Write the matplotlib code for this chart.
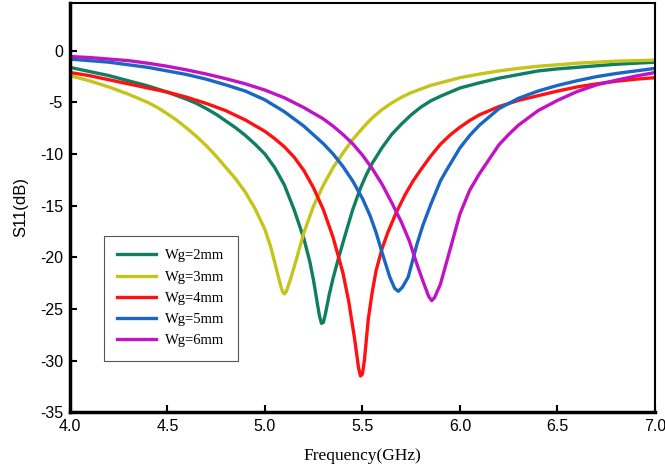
import numpy as np
import matplotlib.pyplot as plt

plt.rcParams['font.family'] = 'Liberation Sans'
plt.rcParams['axes.unicode_minus'] = False

# S11 of the antenna for different ground widths Wg
f_2mm = [4.0, 4.05, 4.1, 4.15, 4.2, 4.25, 4.3, 4.35, 4.4, 4.45, 4.5, 4.55, 4.6, 4.65,
         4.7, 4.75, 4.8, 4.85, 4.9, 4.95, 5.0, 5.05, 5.1, 5.15, 5.2, 5.23, 5.25,
         5.27, 5.28, 5.29, 5.30, 5.31, 5.33, 5.35, 5.38, 5.42, 5.45, 5.49, 5.52,
         5.55, 5.6, 5.65, 5.7, 5.75, 5.8, 5.85, 5.9, 5.95, 6.0, 6.1, 6.2, 6.3,
         6.4, 6.5, 6.6, 6.7, 6.8, 6.9, 7.0]
s11_2mm = [-1.6, -1.8, -2.0, -2.2, -2.4, -2.65, -2.9, -3.15, -3.4, -3.7, -4.0, -4.35,
           -4.7, -5.1, -5.6, -6.15, -6.8, -7.45, -8.2, -9.05, -10.0, -11.3, -13.0,
           -15.4, -18.2, -20.4, -22.3, -24.6, -25.7, -26.4, -26.3, -25.5, -23.6,
           -22.0, -19.9, -17.3, -15.4, -13.3, -12.0, -10.9, -9.4, -8.1, -7.1, -6.2,
           -5.45, -4.85, -4.4, -4.0, -3.6, -3.1, -2.65, -2.3, -1.95, -1.75, -1.6,
           -1.45, -1.3, -1.2, -1.1]

f_3mm = [4.0, 4.05, 4.1, 4.15, 4.2, 4.25, 4.3, 4.35, 4.4, 4.45, 4.5, 4.55, 4.6, 4.65,
         4.7, 4.75, 4.8, 4.85, 4.9, 4.95, 5.0, 5.03, 5.06, 5.08, 5.09, 5.10, 5.11,
         5.13, 5.16, 5.2, 5.25, 5.3, 5.35, 5.4, 5.45, 5.5, 5.55, 5.6, 5.65, 5.7,
         5.75, 5.8, 5.85, 5.9, 5.95, 6.0, 6.1, 6.2, 6.3, 6.4, 6.5, 6.6, 6.7, 6.8,
         6.9, 7.0]
s11_3mm = [-2.4, -2.65, -2.9, -3.2, -3.5, -3.85, -4.2, -4.6, -5.0, -5.5, -6.1, -6.75,
           -7.5, -8.3, -9.2, -10.2, -11.3, -12.4, -13.7, -15.3, -17.3, -19.0, -21.2,
           -22.7, -23.3, -23.55, -23.3, -22.2, -20.3, -17.6, -15.0, -13.0, -11.3,
           -9.9, -8.6, -7.5, -6.5, -5.7, -5.05, -4.5, -4.05, -3.7, -3.35, -3.1,
           -2.85, -2.6, -2.25, -1.95, -1.7, -1.5, -1.35, -1.2, -1.1, -1.0, -0.95,
           -0.9]

f_4mm = [4.0, 4.1, 4.2, 4.3, 4.4, 4.5, 4.6, 4.7, 4.8, 4.9, 5.0, 5.05, 5.1, 5.15,
         5.2, 5.25, 5.3, 5.35, 5.4, 5.43, 5.46, 5.48, 5.49, 5.50, 5.51, 5.53,
         5.55, 5.57, 5.6, 5.63, 5.675, 5.72, 5.76, 5.8, 5.85, 5.9, 5.95, 6.0,
         6.05, 6.1, 6.2, 6.3, 6.4, 6.5, 6.6, 6.7, 6.8, 6.9, 7.0]
s11_4mm = [-2.1, -2.4, -2.8, -3.2, -3.6, -4.0, -4.5, -5.1, -5.8, -6.7, -7.8, -8.5,
           -9.3, -10.3, -11.6, -13.3, -15.4, -18.1, -21.5, -24.3, -27.9, -30.7,
           -31.5, -31.3, -30.0, -26.0, -23.4, -21.3, -19.2, -17.6, -15.6, -13.9,
           -12.6, -11.5, -10.2, -9.05, -8.15, -7.4, -6.75, -6.2, -5.4, -4.8, -4.35,
           -3.9, -3.5, -3.2, -2.95, -2.75, -2.6]

f_5mm = [4.0, 4.1, 4.2, 4.3, 4.4, 4.5, 4.6, 4.7, 4.8, 4.9, 5.0, 5.1, 5.2, 5.3, 5.35,
         5.4, 5.45, 5.5, 5.54, 5.57, 5.6, 5.64, 5.665, 5.684, 5.705, 5.735, 5.78,
         5.81, 5.85, 5.9, 5.93, 6.0, 6.05, 6.1, 6.15, 6.2, 6.3, 6.4, 6.5, 6.6,
         6.7, 6.8, 6.9, 7.0]
s11_5mm = [-0.8, -0.95, -1.1, -1.35, -1.6, -1.95, -2.3, -2.75, -3.3, -3.9, -4.75,
           -5.9, -7.3, -9.0, -10.0, -11.2, -12.6, -14.3, -16.0, -17.6, -19.5,
           -21.9, -23.0, -23.3, -22.9, -21.9, -18.7, -16.9, -14.9, -12.6, -11.6,
           -9.4, -8.2, -7.2, -6.4, -5.6, -4.6, -3.9, -3.35, -2.9, -2.5, -2.2,
           -1.95, -1.7]

f_6mm = [4.0, 4.1, 4.2, 4.3, 4.4, 4.5, 4.6, 4.7, 4.8, 4.9, 5.0, 5.1, 5.2, 5.3, 5.35,
         5.4, 5.45, 5.5, 5.55, 5.6, 5.65, 5.7, 5.74, 5.78, 5.81, 5.84, 5.855,
         5.87, 5.9, 5.95, 6.0, 6.05, 6.1, 6.15, 6.2, 6.25, 6.3, 6.35, 6.4, 6.5,
         6.6, 6.7, 6.8, 6.9, 7.0]
s11_6mm = [-0.55, -0.65, -0.8, -0.95, -1.2, -1.5, -1.85, -2.25, -2.7, -3.2, -3.8,
           -4.55, -5.5, -6.6, -7.3, -8.1, -9.0, -10.1, -11.4, -12.9, -14.7, -16.6,
           -18.4, -20.7, -22.3, -23.8, -24.2, -23.9, -22.6, -19.2, -15.8, -13.5,
           -11.9, -10.5, -9.1, -8.1, -7.2, -6.5, -5.8, -4.8, -3.95, -3.3, -2.85,
           -2.45, -2.1]

labels = ['Wg=2mm', 'Wg=3mm', 'Wg=4mm', 'Wg=5mm', 'Wg=6mm']
colors = ['#0f7f5f', '#c4c41a', '#ff1111', '#1a66c4', '#c014c4']

fig = plt.figure(figsize=(6.65, 4.71), dpi=100)
ax = fig.add_axes([0.105, 0.125, 0.88, 0.869])

curves = [(f_2mm, s11_2mm), (f_3mm, s11_3mm), (f_4mm, s11_4mm),
          (f_5mm, s11_5mm), (f_6mm, s11_6mm)]
for (f, s), lab, c in zip(curves, labels, colors):
    ax.plot(f, s, color=c, lw=2.4, label=lab, solid_joinstyle='round')

ax.set_xlim(4.0, 7.0)
ax.set_ylim(-35, 4.65)
ax.set_xticks(np.arange(4.0, 7.01, 0.5))
ax.set_yticks(np.arange(-35, 1, 5))
ax.xaxis.set_major_formatter(plt.FormatStrFormatter('%.1f'))
ax.tick_params(direction='in', length=5, width=1.5, pad=5, labelsize=11.5)

ax.spines['left'].set_linewidth(2.5)
ax.spines['bottom'].set_linewidth(2.5)
ax.spines['top'].set_linewidth(1.5)
ax.spines['right'].set_linewidth(1.5)

ax.set_xlabel('Frequency(GHz)', fontfamily='Liberation Serif', fontsize=12.5, labelpad=10)
ax.set_ylabel('S11(dB)', fontsize=12, labelpad=8)

leg = ax.legend(loc='upper left', bbox_to_anchor=(0.058, 0.43), borderaxespad=0,
                prop={'family': 'Liberation Serif', 'size': 10.5},
                fancybox=False, edgecolor='#555555', framealpha=1,
                handlelength=2.7, handletextpad=0.6, labelspacing=0.55,
                borderpad=0.9)
leg.get_frame().set_linewidth(0.8)

fig.savefig('out.png', dpi=100)
